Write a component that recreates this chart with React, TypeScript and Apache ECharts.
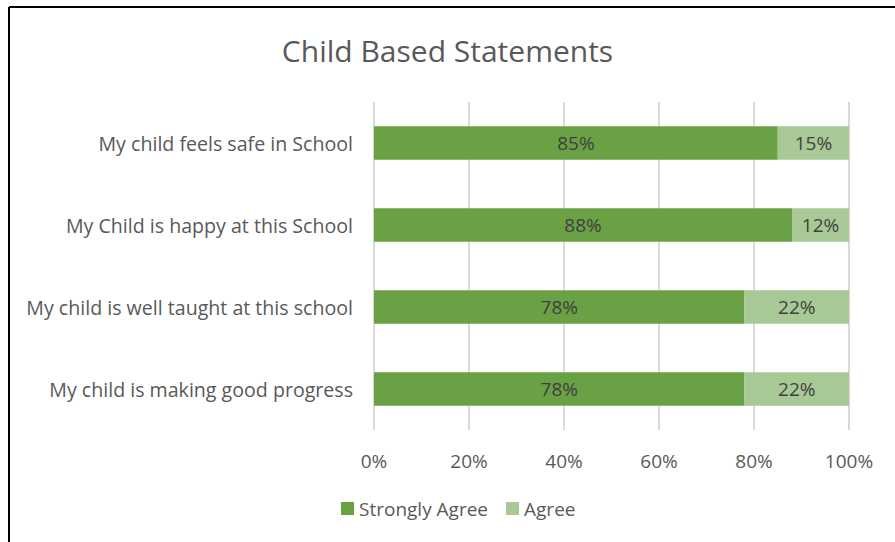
import React, { useEffect, useRef } from "react";
import * as echarts from "echarts";

const categories = [
  "My child feels safe in School",
  "My Child is happy at this School",
  "My child is well taught at this school",
  "My child is making good progress",
];
const stronglyAgree = [85, 88, 78, 78];
const agree = [15, 12, 22, 22];
const xTicks = { min: 0, max: 100, interval: 20 };

const FONT = "'Open Sans', 'Noto Sans', sans-serif";

export default function App() {
  const ref = useRef<HTMLDivElement>(null);
  useEffect(() => {
    document.body.style.margin = "0";
    const chart = echarts.init(ref.current!, null, { renderer: "svg" });
    chart.setOption({
      animation: false,
      backgroundColor: "#ffffff",
      textStyle: { fontFamily: FONT },
      title: {
        text: "Child Based Statements",
        left: "center",
        top: 30,
        textStyle: { fontFamily: FONT, fontSize: 30, fontWeight: "normal", color: "#595959" },
      },
      grid: { left: 374, right: 46, top: 102, bottom: 112, containLabel: false },
      legend: {
        bottom: 19,
        left: 336,
        icon: "rect",
        itemWidth: 13,
        itemHeight: 13,
        itemGap: 18,
        textStyle: { fontFamily: FONT, fontSize: 19, color: "#595959" },
        data: ["Strongly Agree", "Agree"],
      },
      xAxis: {
        type: "value",
        min: xTicks.min,
        max: xTicks.max,
        interval: xTicks.interval,
        axisLine: { show: false },
        axisTick: { show: false },
        axisLabel: {
          formatter: "{value}%",
          fontFamily: FONT,
          fontSize: 19,
          color: "#595959",
          margin: 21,
        },
        splitLine: { show: true, lineStyle: { color: "#d9d9d9", width: 2 } },
      },
      yAxis: {
        type: "category",
        inverse: true,
        data: categories,
        axisLine: { show: false },
        axisTick: { show: false },
        axisLabel: { fontFamily: FONT, fontSize: 19.6, color: "#595959", margin: 21 },
      },
      series: [
        {
          name: "Strongly Agree",
          type: "bar",
          stack: "total",
          barWidth: "41%",
          data: stronglyAgree,
          itemStyle: { color: "#6aa144" },
          label: {
            show: true,
            position: "inside",
            formatter: "{c}%",
            fontFamily: FONT,
            fontSize: 19,
            color: "#404040",
          },
        },
        {
          name: "Agree",
          type: "bar",
          stack: "total",
          barWidth: "41%",
          data: agree,
          itemStyle: { color: "#a8c995" },
          label: {
            show: true,
            position: "inside",
            formatter: "{c}%",
            fontFamily: FONT,
            fontSize: 19,
            color: "#404040",
          },
        },
      ],
      graphic: [
        { type: "line", shape: { x1: 9, y1: 7, x2: 895, y2: 7 }, style: { stroke: "#000000", lineWidth: 2 } },
        { type: "line", shape: { x1: 9, y1: 7, x2: 9, y2: 542 }, style: { stroke: "#000000", lineWidth: 2 } },
      ],
    });
    return () => chart.dispose();
  }, []);
  return <div ref={ref} style={{ width: 895, height: 542 }} />;
}
